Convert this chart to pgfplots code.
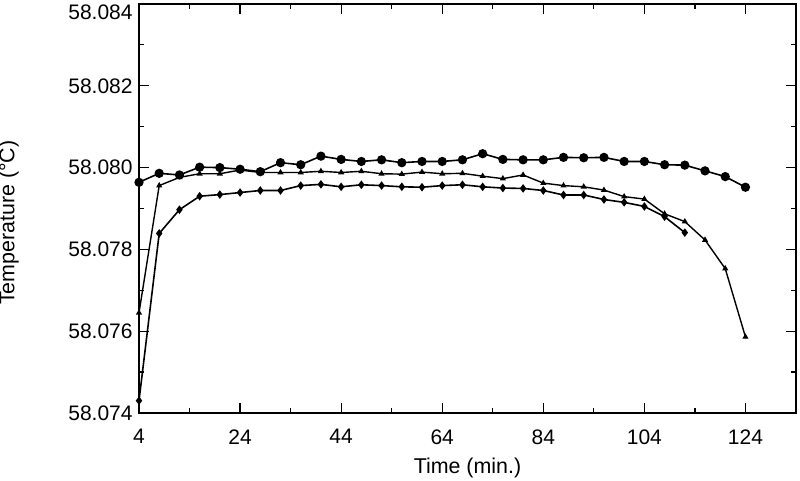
\documentclass[border=0pt]{standalone}
\usepackage{fontspec}
\setmainfont{Liberation Sans}
\usepackage{pgfplots}
\pgfplotsset{compat=1.18}
\begin{document}
\begin{tikzpicture}
\useasboundingbox (-69.5pt,-34pt) rectangle (330.5pt,206.5pt);
\begin{axis}[
  at={(0pt,0pt)}, anchor=south west,
  scale only axis, width=328.5pt, height=204.5pt,
  xmin=4, xmax=134, ymin=58.074, ymax=58.084,
  xtick={4,24,44,64,84,104,124},
  minor xtick={14,34,54,74,94,114,134},
  ytick={58.074,58.076,58.078,58.080,58.082},
  minor ytick={58.075,58.077,58.079,58.081,58.083},
  extra y ticks={58.084},
  extra y tick style={yticklabel style={anchor=north east}},
  scaled y ticks=false,
  yticklabel style={/pgf/number format/fixed, /pgf/number format/fixed zerofill, /pgf/number format/precision=3},
  /pgf/number format/assume math mode=true,
  tick align=inside, tick pos=both,
  major tick length=5pt, minor tick length=2.5pt,
  every tick/.style={black, line width=0.6pt},
  axis line style={line width=0.8pt},
  tick label style={font=\fontsize{10.5}{12}\selectfont},
  xticklabel style={anchor=north, inner sep=0pt, yshift=-8pt},
  yticklabel style={anchor=east, inner sep=0pt, xshift=-3pt},
  xlabel={Time (min.)},
  ylabel={Temperature (°C)},
  label style={font=\fontsize{10.7}{12.8}\selectfont},
  xlabel style={at={(axis description cs:0.5,0)}, anchor=north, inner sep=0pt, yshift=-22.5pt},
  ylabel style={at={(axis description cs:-0.198,0.465)}, anchor=center, inner sep=0pt},
  clip=false,
]
% Series A (large filled circles)
\addplot[black, line width=0.8pt, mark=*, mark size=1.9pt] coordinates {
(4,58.07964) (8,58.07986) (12,58.07982) (16,58.08001) (20,58.08000) (24,58.07996)
(28,58.07990) (32,58.08012) (36,58.08007) (40,58.08028) (44,58.08020) (48,58.08015)
(52,58.08019) (56,58.08012) (60,58.08015) (64,58.08015) (68,58.08019) (72,58.08034)
(76,58.08020) (80,58.08019) (84,58.08019) (88,58.08025) (92,58.08024) (96,58.08025)
(100,58.08015) (104,58.08015) (108,58.08007) (112,58.08006) (116,58.07992)
(120,58.07978) (124,58.07952)
};
% Series B (small triangles)
\addplot[black, line width=0.7pt, mark=triangle*, mark size=1.1pt] coordinates {
(4,58.07645) (8,58.07956) (12,58.07976) (16,58.07985) (20,58.07985) (24,58.07994)
(28,58.07988) (32,58.07988) (36,58.07988) (40,58.07991) (44,58.07988) (48,58.07991)
(52,58.07985) (56,58.07984) (60,58.07989) (64,58.07985) (68,58.07986) (72,58.07979)
(76,58.07973) (80,58.07982) (84,58.07962) (88,58.07956) (92,58.07953) (96,58.07945)
(100,58.07929) (104,58.07923) (108,58.07887) (112,58.07868) (116,58.07823)
(120,58.07753) (124,58.07586)
};
% Series C (small diamonds)
\addplot[black, line width=0.8pt, mark=diamond*, mark size=1.5pt] coordinates {
(4,58.07430) (8,58.07839) (12,58.07897) (16,58.07930) (20,58.07934) (24,58.07939)
(28,58.07944) (32,58.07944) (36,58.07956) (40,58.07959) (44,58.07953) (48,58.07958)
(52,58.07956) (56,58.07953) (60,58.07952) (64,58.07956) (68,58.07958) (72,58.07953)
(76,58.07950) (80,58.07949) (84,58.07944) (88,58.07933) (92,58.07933) (96,58.07922)
(100,58.07915) (104,58.07905) (108,58.07880) (112,58.07841)
};
\end{axis}
\end{tikzpicture}
\end{document}
